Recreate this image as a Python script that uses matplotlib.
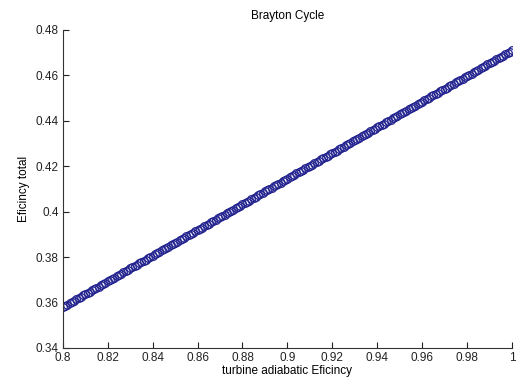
import matplotlib
matplotlib.use('Agg')
import matplotlib.pyplot as plt

# turbine adiabatic efficiency sweep (step 0.001)
eta_turbine = [0.800, 0.801, 0.802, 0.803, 0.804, 0.805, 0.806, 0.807, 0.808, 0.809,
               0.810, 0.811, 0.812, 0.813, 0.814, 0.815, 0.816, 0.817, 0.818, 0.819,
               0.820, 0.821, 0.822, 0.823, 0.824, 0.825, 0.826, 0.827, 0.828, 0.829,
               0.830, 0.831, 0.832, 0.833, 0.834, 0.835, 0.836, 0.837, 0.838, 0.839,
               0.840, 0.841, 0.842, 0.843, 0.844, 0.845, 0.846, 0.847, 0.848, 0.849,
               0.850, 0.851, 0.852, 0.853, 0.854, 0.855, 0.856, 0.857, 0.858, 0.859,
               0.860, 0.861, 0.862, 0.863, 0.864, 0.865, 0.866, 0.867, 0.868, 0.869,
               0.870, 0.871, 0.872, 0.873, 0.874, 0.875, 0.876, 0.877, 0.878, 0.879,
               0.880, 0.881, 0.882, 0.883, 0.884, 0.885, 0.886, 0.887, 0.888, 0.889,
               0.890, 0.891, 0.892, 0.893, 0.894, 0.895, 0.896, 0.897, 0.898, 0.899,
               0.900, 0.901, 0.902, 0.903, 0.904, 0.905, 0.906, 0.907, 0.908, 0.909,
               0.910, 0.911, 0.912, 0.913, 0.914, 0.915, 0.916, 0.917, 0.918, 0.919,
               0.920, 0.921, 0.922, 0.923, 0.924, 0.925, 0.926, 0.927, 0.928, 0.929,
               0.930, 0.931, 0.932, 0.933, 0.934, 0.935, 0.936, 0.937, 0.938, 0.939,
               0.940, 0.941, 0.942, 0.943, 0.944, 0.945, 0.946, 0.947, 0.948, 0.949,
               0.950, 0.951, 0.952, 0.953, 0.954, 0.955, 0.956, 0.957, 0.958, 0.959,
               0.960, 0.961, 0.962, 0.963, 0.964, 0.965, 0.966, 0.967, 0.968, 0.969,
               0.970, 0.971, 0.972, 0.973, 0.974, 0.975, 0.976, 0.977, 0.978, 0.979,
               0.980, 0.981, 0.982, 0.983, 0.984, 0.985, 0.986, 0.987, 0.988, 0.989,
               0.990, 0.991, 0.992, 0.993, 0.994, 0.995, 0.996, 0.997, 0.998, 0.999,
               1.000]

# total cycle efficiency
eta_total = [0.3580, 0.3586, 0.3591, 0.3597, 0.3603, 0.3608, 0.3614, 0.3620, 0.3625, 0.3631,
             0.3637, 0.3642, 0.3648, 0.3653, 0.3659, 0.3665, 0.3670, 0.3676, 0.3682, 0.3687,
             0.3693, 0.3699, 0.3704, 0.3710, 0.3716, 0.3721, 0.3727, 0.3733, 0.3738, 0.3744,
             0.3750, 0.3755, 0.3761, 0.3766, 0.3772, 0.3778, 0.3783, 0.3789, 0.3795, 0.3800,
             0.3806, 0.3812, 0.3817, 0.3823, 0.3829, 0.3834, 0.3840, 0.3846, 0.3851, 0.3857,
             0.3863, 0.3868, 0.3874, 0.3879, 0.3885, 0.3891, 0.3896, 0.3902, 0.3908, 0.3913,
             0.3919, 0.3925, 0.3930, 0.3936, 0.3942, 0.3947, 0.3953, 0.3959, 0.3964, 0.3970,
             0.3976, 0.3981, 0.3987, 0.3992, 0.3998, 0.4004, 0.4009, 0.4015, 0.4021, 0.4026,
             0.4032, 0.4038, 0.4043, 0.4049, 0.4055, 0.4060, 0.4066, 0.4072, 0.4077, 0.4083,
             0.4089, 0.4094, 0.4100, 0.4105, 0.4111, 0.4117, 0.4122, 0.4128, 0.4134, 0.4139,
             0.4145, 0.4151, 0.4156, 0.4162, 0.4168, 0.4173, 0.4179, 0.4185, 0.4190, 0.4196,
             0.4202, 0.4207, 0.4213, 0.4218, 0.4224, 0.4230, 0.4235, 0.4241, 0.4247, 0.4252,
             0.4258, 0.4264, 0.4269, 0.4275, 0.4281, 0.4286, 0.4292, 0.4298, 0.4303, 0.4309,
             0.4315, 0.4320, 0.4326, 0.4331, 0.4337, 0.4343, 0.4348, 0.4354, 0.4360, 0.4365,
             0.4371, 0.4377, 0.4382, 0.4388, 0.4394, 0.4399, 0.4405, 0.4411, 0.4416, 0.4422,
             0.4428, 0.4433, 0.4439, 0.4444, 0.4450, 0.4456, 0.4461, 0.4467, 0.4473, 0.4478,
             0.4484, 0.4490, 0.4495, 0.4501, 0.4507, 0.4512, 0.4518, 0.4524, 0.4529, 0.4535,
             0.4541, 0.4546, 0.4552, 0.4557, 0.4563, 0.4569, 0.4574, 0.4580, 0.4586, 0.4591,
             0.4597, 0.4603, 0.4608, 0.4614, 0.4620, 0.4625, 0.4631, 0.4637, 0.4642, 0.4648,
             0.4654, 0.4659, 0.4665, 0.4670, 0.4676, 0.4682, 0.4687, 0.4693, 0.4699, 0.4704,
             0.4710]

xticks = [0.8, 0.82, 0.84, 0.86, 0.88, 0.9, 0.92, 0.94, 0.96, 0.98, 1]
xticklabels = ['0.8', '0.82', '0.84', '0.86', '0.88', '0.9', '0.92', '0.94', '0.96', '0.98', '1']
yticks = [0.34, 0.36, 0.38, 0.4, 0.42, 0.44, 0.46, 0.48]
yticklabels = ['0.34', '0.36', '0.38', '0.4', '0.42', '0.44', '0.46', '0.48']

plt.rcParams['font.family'] = ['Liberation Sans', 'DejaVu Sans']

fig = plt.figure(figsize=(5.19, 3.79), dpi=100, facecolor='white')
ax = fig.add_axes([0.121, 0.082, 0.8655, 0.839])

ax.plot(eta_turbine, eta_total, 'o', mfc='none', mec='#22228f', ms=5.5, mew=0.9)

ax.set_xlim(0.8, 1.0)
ax.set_ylim(0.34, 0.48)
ax.set_xticks(xticks)
ax.set_xticklabels(xticklabels)
ax.set_yticks(yticks)
ax.set_yticklabels(yticklabels)
ax.tick_params(direction='in', length=4, width=0.8, labelsize=8.5, colors='#222222', pad=3)

for s in ['top', 'right']:
    ax.spines[s].set_visible(False)
for s in ['left', 'bottom']:
    ax.spines[s].set_color('#333333')
    ax.spines[s].set_linewidth(0.8)

ax.set_title('Brayton Cycle', fontsize=8.5, pad=8)
ax.set_xlabel('turbine adiabatic Eficincy', fontsize=8.5, labelpad=1)
ax.set_ylabel('Eficincy total', fontsize=8.5, labelpad=4)

fig.savefig('out.png', dpi=100)
